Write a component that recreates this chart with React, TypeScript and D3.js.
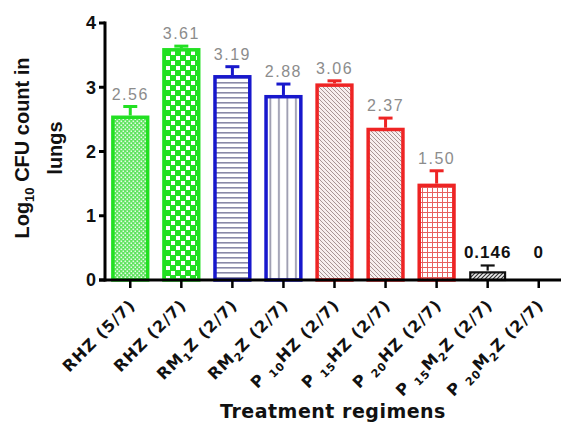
import React from 'react';
import * as d3 from 'd3';

// chart data
const categories = [
  'RHZ (5/7)',
  'RHZ (2/7)',
  'RM_{1}Z (2/7)',
  'RM_{2}Z (2/7)',
  'P _{10}HZ (2/7)',
  'P _{15}HZ (2/7)',
  'P _{20}HZ (2/7)',
  'P _{15}M_{2}Z (2/7)',
  'P _{20}M_{2}Z (2/7)',
];
const means = [2.56, 3.61, 3.19, 2.88, 3.06, 2.37, 1.5, 0.146, 0];
const sems = [0.14, 0.03, 0.13, 0.17, 0.04, 0.15, 0.2, 0.08, 0];
const valueLabels = ['2.56', '3.61', '3.19', '2.88', '3.06', '2.37', '1.50', '0.146', '0'];
const yTicks = [0, 1, 2, 3, 4];

// look of each bar
const GREEN = '#22e022';
const BLUE = '#1818cc';
const RED = '#ee2424';
const barStroke = [GREEN, GREEN, BLUE, BLUE, RED, RED, RED, '#111', '#111'];
const barFill = ['p-fine', 'p-check', 'p-hline', 'p-vline', 'p-diag', 'p-diag', 'p-grid', 'p-dark', 'p-dark'];

const W = 561;
const H = 424;
const margin = { top: 23, left: 105, bottom: 280 };

const x = d3
  .scaleBand<string>()
  .domain(categories)
  .range([margin.left, 564])
  .paddingInner(0.25)
  .paddingOuter(0.12);

const y = d3.scaleLinear().domain([0, 4]).range([margin.bottom, margin.top]);

// "RM_{1}Z" -> [{t:'RM'}, {t:'1', sub:true}, {t:'Z'}]
function parseLabel(s: string) {
  const parts: { t: string; sub: boolean }[] = [];
  const re = /_\{([^}]*)\}/g;
  let last = 0;
  let m;
  while ((m = re.exec(s))) {
    if (m.index > last) parts.push({ t: s.slice(last, m.index), sub: false });
    parts.push({ t: m[1], sub: true });
    last = m.index + m[0].length;
  }
  if (last < s.length) parts.push({ t: s.slice(last), sub: false });
  return parts;
}

const Patterns = () => (
  <defs>
    <pattern id="p-fine" patternUnits="userSpaceOnUse" width="4" height="4">
      <rect width="4" height="4" fill="#5fe45f" />
      <rect x="0.5" y="0.5" width="1.6" height="1.6" fill="#e6fbe6" />
      <rect x="2.5" y="2.5" width="1.6" height="1.6" fill="#e6fbe6" />
    </pattern>
    <pattern id="p-check" patternUnits="userSpaceOnUse" width="10" height="10">
      <rect width="10" height="10" fill={GREEN} />
      <rect x="1" y="1" width="4" height="4" fill="#fff" />
      <rect x="6" y="6" width="4" height="4" fill="#fff" />
    </pattern>
    <pattern id="p-hline" patternUnits="userSpaceOnUse" width="5" height="5">
      <rect width="5" height="5" fill="#fff" />
      <rect y="2" width="5" height="1.6" fill="#8a8aa8" />
    </pattern>
    <pattern id="p-vline" patternUnits="userSpaceOnUse" width="8.5" height="8.5" x="3">
      <rect width="8.5" height="8.5" fill="#fff" />
      <rect x="3" width="1.8" height="8.5" fill="#9a9aae" />
    </pattern>
    <pattern id="p-diag" patternUnits="userSpaceOnUse" width="4" height="4">
      <rect width="4" height="4" fill="#f7eeee" />
      <path d="M0,0L4,4M-1,3L1,5M3,-1L5,1" stroke="#a89494" strokeWidth="1" />
    </pattern>
    <pattern id="p-grid" patternUnits="userSpaceOnUse" width="5" height="5">
      <rect width="5" height="5" fill="#fff" />
      <path d="M2.5,0V5M0,2.5H5" stroke="#e86060" strokeWidth="1" />
    </pattern>
    <pattern id="p-dark" patternUnits="userSpaceOnUse" width="4" height="4">
      <rect width="4" height="4" fill="#eee" />
      <path d="M0,4L4,0M-1,1L1,-1M3,5L5,3" stroke="#333" strokeWidth="1.2" />
    </pattern>
  </defs>
);

export default function App() {
  const bw = x.bandwidth();
  const sw = 3.5;
  const tickFont = 'DejaVu Sans, Verdana, sans-serif';
  const numFont = 'Liberation Sans, Arial, sans-serif';

  return (
    <svg
      width={W}
      height={H}
      viewBox={`0 0 ${W} ${H}`}
      style={{ position: 'absolute', left: 0, top: 0, background: '#fff' }}
    >
      <Patterns />

      {/* bars */}
      {categories.map((c, i) => {
        const x0 = x(c)!;
        const top = y(means[i]);
        const h = y(0) - top;
        if (h <= 0) return null;
        return (
          <rect
            key={c}
            x={x0 + sw / 2}
            y={top + sw / 2}
            width={bw - sw}
            height={Math.max(0, h - sw / 2)}
            fill={`url(#${barFill[i]})`}
            stroke={barStroke[i]}
            strokeWidth={i >= 7 ? 2.2 : sw}
          />
        );
      })}

      {/* error bars (upper only) */}
      {categories.map((c, i) => {
        if (sems[i] <= 0) return null;
        const cx = x(c)! + bw / 2;
        const y1 = y(means[i]);
        const y2 = y(means[i] + sems[i]);
        return (
          <g key={c} stroke={barStroke[i]} strokeWidth={i >= 7 ? 2.2 : 3}>
            <line x1={cx} x2={cx} y1={y1} y2={y2} />
            <line x1={cx - 7} x2={cx + 7} y1={y2} y2={y2} />
          </g>
        );
      })}

      {/* value labels */}
      {categories.map((c, i) => {
        const cx = x(c)! + bw / 2;
        const capY = Math.min(y(means[i] + sems[i]), y(0) - 15);
        const dark = i >= 7;
        return (
          <text
            key={c}
            x={cx}
            y={capY - 7}
            textAnchor="middle"
            fontFamily={numFont}
            fontSize={dark ? 17 : 16}
            fontWeight={dark ? 'bold' : 'normal'}
            letterSpacing={dark ? 1 : 1.5}
            fill={dark ? '#111' : '#8c8c8c'}
          >
            {valueLabels[i]}
          </text>
        );
      })}

      {/* y axis */}
      <line x1={margin.left} x2={margin.left} y1={y(4) - 1.5} y2={y(0) + 1.5} stroke="#000" strokeWidth={3} />
      {yTicks.map((t) => (
        <g key={t}>
          <line x1={margin.left - 6} x2={margin.left} y1={y(t)} y2={y(t)} stroke="#000" strokeWidth={3} />
          <text
            x={margin.left - 9}
            y={y(t)}
            dy="0.36em"
            textAnchor="end"
            fontFamily={numFont}
            fontWeight="bold"
            fontSize={18}
            fill="#111"
          >
            {t}
          </text>
        </g>
      ))}

      {/* x axis */}
      <line x1={margin.left - 6} x2={W} y1={y(0)} y2={y(0)} stroke="#000" strokeWidth={3} />
      {categories.map((c) => {
        const cx = x(c)! + bw / 2;
        return (
          <g key={c}>
            <line x1={cx} x2={cx} y1={y(0)} y2={y(0) + 8} stroke="#000" strokeWidth={2.5} />
            <text
              transform={`translate(${cx + 6},${y(0) + 26}) rotate(-45)`}
              textAnchor="end"
              fontFamily={tickFont}
              fontWeight="bold"
              fontSize={16}
              letterSpacing={1}
              fill="#111"
            >
              {parseLabel(c).map((p, k, arr) => {
                const prevSub = k > 0 && arr[k - 1].sub;
                const dy = p.sub ? 4 : prevSub ? -4 : 0;
                return (
                  <tspan key={k} dy={dy} fontSize={p.sub ? 11 : 16}>
                    {p.t}
                  </tspan>
                );
              })}
            </text>
          </g>
        );
      })}

      {/* axis titles */}
      <text
        x={333}
        y={418}
        textAnchor="middle"
        fontFamily={tickFont}
        fontWeight="bold"
        fontSize={19}
        letterSpacing={0.5}
        fill="#111"
      >
        Treatment regimens
      </text>
      <g fontFamily={numFont} fontWeight="bold" fontSize={20} fill="#111" textAnchor="middle">
        <text transform="translate(29,148) rotate(-90)">
          Log
          <tspan fontSize={13} dy={5}>
            10
          </tspan>
          <tspan dy={-5}> CFU count in</tspan>
        </text>
        <text transform="translate(62,148) rotate(-90)">lungs</text>
      </g>
    </svg>
  );
}
